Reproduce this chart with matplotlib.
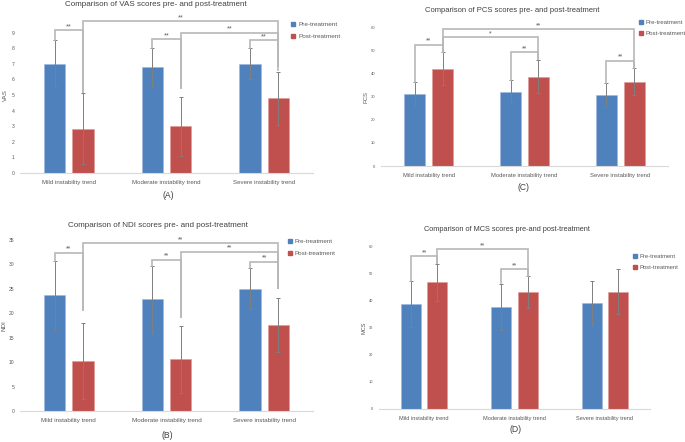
import matplotlib.pyplot as plt
from matplotlib.lines import Line2D

plt.rcParams['font.family'] = ['Liberation Sans', 'DejaVu Sans']

W, H = 685, 442

categories = ['Mild instability trend', 'Moderate instability trend', 'Severe instability trend']

# VAS
vas_pre = [7.0, 6.8, 7.0]
vas_pre_sd = [1.5, 1.2, 1.0]
vas_post = [2.85, 3.0, 4.8]
vas_post_sd = [2.3, 1.9, 1.7]
vas_ticks = [0, 1, 2, 3, 4, 5, 6, 7, 8, 9]
# (bar a, bar b, level, left leg end, right leg end, label); bars 0..5 = pre/post per group
vas_sig = [(0, 1, 9.16, 8.55, 5.2, '**'), (1, 5, 9.74, 5.2, 6.85, '**'),
           (2, 3, 8.56, 8.0, 5.45, '**'), (3, 5, 9.0, 5.45, 6.85, '**'),
           (4, 5, 8.52, 8.0, 6.6, '**')]

# NDI
ndi_pre = [23.7, 22.9, 25.0]
ndi_pre_sd = [7.1, 6.8, 4.2]
ndi_post = [10.3, 10.6, 17.6]
ndi_post_sd = [7.7, 6.9, 5.5]
ndi_ticks = [0, 5, 10, 15, 20, 25, 30, 35]
ndi_sig = [(0, 1, 32.4, 30.8, 20.7, '**'), (1, 5, 34.4, 20.7, 25.1, '**'),
           (2, 3, 31.0, 29.7, 19.3, '**'), (3, 5, 32.6, 19.3, 25.1, '**'),
           (4, 5, 30.6, 29.2, 25.1, '**')]

# PCS
pcs_pre = [31.0, 32.2, 30.6]
pcs_pre_sd = [5.4, 4.9, 5.2]
pcs_post = [42.1, 38.7, 36.5]
pcs_post_sd = [7.1, 7.2, 5.8]
pcs_ticks = [0, 10, 20, 30, 40, 50, 60]
pcs_sig = [(0, 1, 52.4, 36.5, 49.2, '**'), (1, 3, 55.6, 49.2, 46.2, '*'),
           (1, 5, 59.2, 49.2, 42.3, '**'), (2, 3, 49.2, 37.2, 46.2, '**'),
           (4, 5, 45.5, 35.8, 42.3, '**')]

# MCS
mcs_pre = [38.8, 37.7, 39.2]
mcs_pre_sd = [8.4, 8.6, 8.0]
mcs_post = [46.8, 43.1, 43.4]
mcs_post_sd = [6.9, 5.9, 8.2]
mcs_ticks = [0, 10, 20, 30, 40, 50, 60]
mcs_sig = [(0, 1, 56.5, 47.3, 53.8, '**'), (1, 3, 59.0, 53.8, 49.0, '**'),
           (2, 3, 51.6, 46.4, 49.0, '**')]

blue = '#4f81bd'
red = '#c0504d'
txt = '#595959'
off = 0.145
bw = 0.22

fig = plt.figure(figsize=(W / 100, H / 100), dpi=100)


def px_box(left, right, y0, top):
    return [left / W, 1 - y0 / H, (right - left) / W, (y0 - top) / H]


def panel(box, pre, pre_sd, post, post_sd, ticks, sig, ylabel, title, caption,
          title_xy, caption_xy, leg_xy, ylabel_x, fs_tick, fs_cat, fs_title, fs_leg):
    ax = fig.add_axes(px_box(*box))
    xs = range(len(categories))
    ekw = dict(ecolor='#7f7f7f', elinewidth=0.7, capsize=1.3, capthick=0.7)
    ax.bar([x - off for x in xs], pre, bw, color=blue, edgecolor='#9bb7dc', lw=0.4,
           yerr=pre_sd, error_kw=ekw)
    ax.bar([x + off for x in xs], post, bw, color=red, edgecolor='#dd9896', lw=0.4,
           yerr=post_sd, error_kw=ekw)
    ax.set_xlim(-0.5, 2.5)
    ax.set_ylim(0, ticks[-1] if ticks[-1] > 10 else ticks[-1] + 1)
    ax.set_yticks(ticks)
    ax.set_xticks(list(xs))
    ax.set_xticklabels(categories)
    ax.tick_params(axis='y', length=0, labelsize=fs_tick, labelcolor=txt, pad=4)
    ax.tick_params(axis='x', length=0, labelsize=fs_cat, labelcolor=txt, pad=5)
    for s in ['top', 'right', 'left']:
        ax.spines[s].set_visible(False)
    ax.spines['bottom'].set_color('#d9d9d9')
    ax.spines['bottom'].set_linewidth(0.8)

    # y label placed in figure pixels
    pos = ax.get_position()
    fig.text(ylabel_x / W, pos.y0 + pos.height / 2, ylabel, rotation=90, ha='center',
             va='center', fontsize=fs_cat, color=txt)

    def bx(k):
        return k // 2 + (off if k % 2 else -off)

    for a, b, y, l1, l2, lab in sig:
        x1, x2 = bx(a), bx(b)
        ax.plot([x1, x1, x2, x2], [l1, y, y, l2], color='#b8b8b8', lw=1.2, clip_on=False,
                solid_joinstyle='miter')
        ax.text((x1 + x2) / 2, y, lab, ha='center', va='bottom', fontsize=fs_leg + 0.6,
                color=txt)

    fig.text(title_xy[0] / W, 1 - title_xy[1] / H, title, ha='center', va='center',
             fontsize=fs_title, color='#404040')
    fig.text(caption_xy[0] / W, 1 - caption_xy[1] / H, caption, ha='center', va='center',
             fontsize=6.2, color='#404040')
    handles = [Line2D([], [], marker='s', ls='', color=blue, markersize=3.2),
               Line2D([], [], marker='s', ls='', color=red, markersize=3.2)]
    fig.legend(handles, ['Pre-treatment', 'Post-treatment'], loc='upper left',
               bbox_to_anchor=(leg_xy[0] / W, 1 - leg_xy[1] / H), frameon=False,
               fontsize=fs_leg, borderpad=0, borderaxespad=0, handlelength=0.6,
               handletextpad=0.5, labelspacing=1.0, labelcolor=txt)
    return ax


panel((20, 313, 173, 17), vas_pre, vas_pre_sd, vas_post, vas_post_sd, vas_ticks, vas_sig,
      'VAS', 'Comparison of VAS scores pre- and post-treatment', '(A)',
      (156, 5), (168, 196), (291, 22), 5, 3.6, 4.4, 5.8, 4.6)

panel((20, 313, 411.3, 240), ndi_pre, ndi_pre_sd, ndi_post, ndi_post_sd, ndi_ticks, ndi_sig,
      'NDI', 'Comparison of NDI scores pre- and post-treatment', '(B)',
      (158, 226), (167, 436), (288, 239), 4, 3.6, 4.5, 5.8, 4.5)

panel((381, 668, 166, 27.3), pcs_pre, pcs_pre_sd, pcs_post, pcs_post_sd, pcs_ticks, pcs_sig,
      'PCS', 'Comparison of PCS scores pre- and post-treatment', '(C)',
      (512, 11), (524, 187), (639, 19.5), 366, 3.0, 4.2, 5.5, 4.4)

panel((379, 650, 409, 246.7), mcs_pre, mcs_pre_sd, mcs_post, mcs_post_sd, mcs_ticks, mcs_sig,
      'MCS', 'Comparison of MCS scores pre-and post-treatment', '(D)',
      (507, 229), (516, 430), (633, 254), 364, 2.8, 4.1, 5.3, 4.2)

fig.savefig('out.png', dpi=100, facecolor='white')
